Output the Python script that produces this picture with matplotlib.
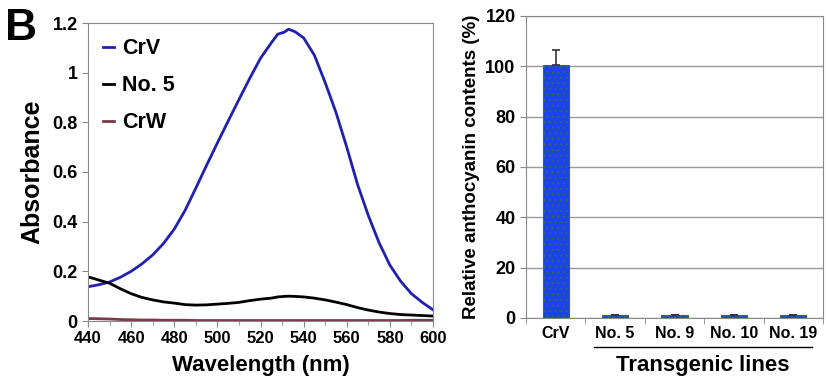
import numpy as np
import matplotlib.pyplot as plt

plt.rcParams['font.family'] = ['Liberation Sans', 'DejaVu Sans']
plt.rcParams['font.weight'] = 'bold'
plt.rcParams['hatch.linewidth'] = 0.6

# absorbance spectra
wavelength = [440, 445, 450, 455, 460, 465, 470, 475, 480, 485, 490, 495, 500,
              505, 510, 515, 520, 525, 528, 531, 533, 536, 540, 545, 550, 555,
              560, 565, 570, 575, 580, 585, 590, 595, 600]
crv = [0.138, 0.146, 0.157, 0.176, 0.200, 0.230, 0.266, 0.312, 0.370, 0.445,
       0.535, 0.627, 0.717, 0.805, 0.892, 0.977, 1.058, 1.120, 1.155, 1.163,
       1.175, 1.165, 1.140, 1.070, 0.960, 0.840, 0.700, 0.550, 0.425, 0.315,
       0.225, 0.160, 0.110, 0.075, 0.045]
no5 = [0.178, 0.165, 0.152, 0.130, 0.110, 0.095, 0.085, 0.077, 0.072, 0.066,
       0.064, 0.065, 0.068, 0.071, 0.075, 0.082, 0.088, 0.092, 0.097, 0.099,
       0.100, 0.099, 0.097, 0.092, 0.085, 0.076, 0.066, 0.054, 0.044, 0.036,
       0.030, 0.026, 0.024, 0.022, 0.020]
crw = [0.010, 0.009, 0.008, 0.006, 0.005, 0.004, 0.004, 0.003, 0.003, 0.003,
       0.002, 0.002, 0.002, 0.002, 0.002, 0.002, 0.002, 0.002, 0.002, 0.002,
       0.002, 0.002, 0.002, 0.002, 0.002, 0.002, 0.002, 0.002, 0.002, 0.002,
       0.002, 0.002, 0.003, 0.003, 0.003]

# relative anthocyanin contents
lines = ['CrV', 'No. 5', 'No. 9', 'No. 10', 'No. 19']
contents = [100.5, 1.0, 1.0, 1.0, 1.0]
errors = [6.0, 0, 0, 0, 0]

fig = plt.figure(figsize=(8.26, 3.79), dpi=100)
spine_col = '#888888'

# left panel: spectra
ax1 = fig.add_axes([88 / 826, 1 - 321 / 379, 345 / 826, 298 / 379])
ax1.plot(wavelength, crv, color='#2020b0', lw=2, label='CrV')
ax1.plot(wavelength, no5, color='black', lw=2, label='No. 5')
ax1.plot(wavelength, crw, color='#7a3a4a', lw=2, label='CrW')
ax1.set_xlim(440, 600)
ax1.set_ylim(0, 1.2)
ax1.set_xticks(range(440, 601, 20))
ax1.set_xticks(range(440, 601, 10), minor=True)
ax1.set_yticks([0, 0.2, 0.4, 0.6, 0.8, 1, 1.2])
ax1.set_yticklabels(['0', '0.2', '0.4', '0.6', '0.8', '1', '1.2'])
ax1.tick_params(direction='out', length=4, color=spine_col)
ax1.tick_params(axis='y', labelsize=13)
ax1.tick_params(axis='x', labelsize=12)
ax1.tick_params(which='minor', length=3, color=spine_col)
for s in ax1.spines.values():
    s.set_color(spine_col)
ax1.set_xlabel('Wavelength (nm)', fontsize=16, fontweight='bold', labelpad=6)
ax1.set_ylabel('Absorbance', fontsize=18, fontweight='bold', labelpad=6)
leg = ax1.legend(loc='upper left', frameon=False, fontsize=15.5, handlelength=0.5,
                 labelspacing=0.75, handletextpad=0.4, borderaxespad=0.3)

fig.text(5 / 826, 1 - 40 / 379, 'B', fontsize=32, fontweight='bold')

# right panel: bars
ax2 = fig.add_axes([526 / 826, 1 - 318 / 379, 297 / 826, 302 / 379])
x = np.arange(len(lines))
ax2.bar(x, contents, width=0.44, color='#1a44e8', edgecolor='#3d6b3d', lw=0.8,
        hatch='...', zorder=3)
ax2.errorbar(x, contents, yerr=[[0] * len(errors), errors], fmt='none',
             ecolor='#333333', elinewidth=1.2, capsize=3, capthick=1.2, zorder=4)
ax2.set_xlim(-0.5, len(lines) - 0.5)
ax2.set_ylim(0, 120)
ax2.set_yticks(range(0, 121, 20))
ax2.yaxis.grid(True, color='#999999', lw=1)
ax2.set_axisbelow(True)
ax2.set_xticks(x)
ax2.set_xticklabels(lines, fontsize=11.5)
ax2.set_xticks(np.arange(-0.5, len(lines), 1), minor=True)
ax2.tick_params(axis='x', which='major', length=0, pad=6)
ax2.tick_params(axis='x', which='minor', length=4, color=spine_col)
ax2.tick_params(axis='y', direction='out', length=4, color=spine_col, labelsize=13)
for s in ax2.spines.values():
    s.set_color(spine_col)
ax2.set_ylabel('Relative anthocyanin contents (%)', fontsize=13.5,
               fontweight='bold', labelpad=4)

# bracket under transgenic lines
fig.add_artist(plt.Line2D([594 / 826, 812 / 826], [1 - 347 / 379, 1 - 347 / 379],
                          color='black', lw=1))
fig.text(703 / 826, 1 - 365 / 379, 'Transgenic lines', fontsize=16,
         fontweight='bold', ha='center', va='center')

fig.savefig('out.png', dpi=100)
